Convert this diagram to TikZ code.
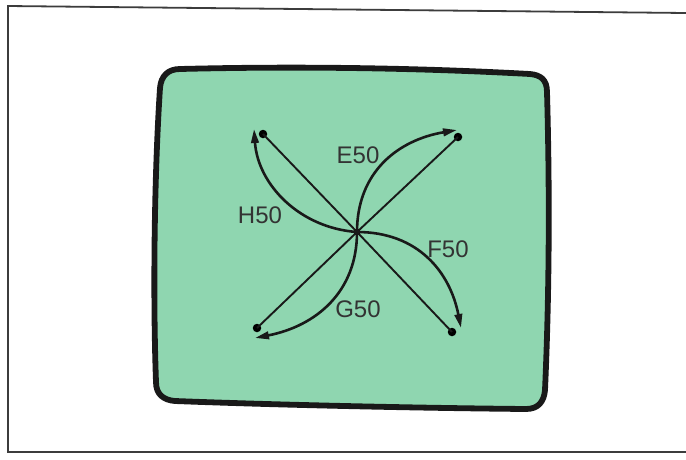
\documentclass[tikz,border=0pt]{standalone}
\usepackage{fontspec}
\setmainfont{Liberation Sans}
\usetikzlibrary{arrows.meta}
\definecolor{screengreen}{RGB}{143,214,176}
\definecolor{framegrey}{RGB}{60,60,60}
\tikzset{
  screen/.style={line width=5.8pt, draw=black!90, fill=screengreen, line join=round},
  frameline/.style={line width=1.8pt, draw=framegrey},
  enddot/.style={circle, fill=black, inner sep=0pt, minimum size=8.5pt},
  centresq/.style={rectangle, fill=black, inner sep=0pt, minimum size=6.5pt},
  ray/.style={line width=1.9pt, draw=black!90},
  swing/.style={line width=2.6pt, draw=black!90, -{Triangle[length=14pt,width=7.5pt]}},
  lbl/.style={font=\fontsize{24}{24}\selectfont, text=black!80, inner sep=0pt}
}
\begin{document}
\begin{tikzpicture}[x=1pt,y=-1pt]
\useasboundingbox (0,0) rectangle (686,459);
\fill[white] (0,0) rectangle (686,459);
% outer frame
\coordinate (fTR) at (686,13);
\coordinate (fTL) at (8,6);
\coordinate (fBL) at (8,452);
\coordinate (fBR) at (686,452);
\draw[frameline] (fTR) -- (fTL) -- (fBL) -- (fBR);
% screen
\draw[screen] (180,69) .. controls (300,66) and (420,68) .. (530,74)
  .. controls (541,75) and (547,80) .. (547,92)
  .. controls (550,200) and (549,300) .. (545,390)
  .. controls (544,402) and (538,409) .. (526,409)
  .. controls (420,408) and (280,405) .. (175,401)
  .. controls (163,400) and (156,394) .. (156,382)
  .. controls (153,300) and (154,180) .. (160,88)
  .. controls (161,76) and (168,69) .. (180,69) -- cycle;
% points
\node[centresq] (c) at (357,232) {};
\node[enddot] (nw) at (263,134) {};
\node[enddot] (ne) at (458,137) {};
\node[enddot] (sw) at (257,328) {};
\node[enddot] (se) at (452,332) {};
% straight rays
\draw[ray] (c.center) -- (nw.center);
\draw[ray] (c.center) -- (ne.center);
\draw[ray] (c.center) -- (sw.center);
\draw[ray] (c.center) -- (se.center);
% arrow tips
\coordinate (tE) at (457,130);
\coordinate (tF) at (461,328);
\coordinate (tG) at (255,338);
\coordinate (tH) at (254,129);
% curved arrows
\draw[swing] (c.center) .. controls (357,172) and (398,140) .. (tE);
\draw[swing] (c.center) .. controls (418,232) and (450,272) .. (tF);
\draw[swing] (c.center) .. controls (357,292) and (316,326) .. (tG);
\draw[swing] (c.center) .. controls (300,228) and (258,185) .. (tH);
% labels
\node[lbl] (lE) at (358,155) {E50};
\node[lbl] (lF) at (448,249) {F50};
\node[lbl] (lG) at (358,309) {G50};
\node[lbl] (lH) at (260,215) {H50};
\end{tikzpicture}
\end{document}
